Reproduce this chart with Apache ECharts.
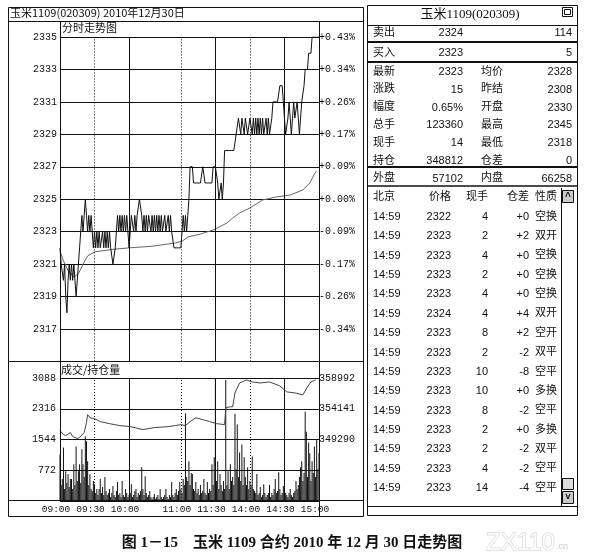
<!DOCTYPE html>
<html><head><meta charset="utf-8">
<script src="https://cdn.jsdelivr.net/npm/echarts@6/dist/echarts.min.js"></script>
<style>html,body{margin:0;padding:0;background:#fff}#c{width:591px;height:560px}</style>
</head><body><div id="c"></div>
<script>
// ---------- data ----------
const timeTickMinutes = [0,30,60,105,135,165,195,225];
const timeTickLabels = ['09:00','09:30','10:00','11:00','11:30','14:00','14:30','15:00'];
const dashedTimeTicks = [30,105,165];
const solidTimeTicks = [60,135,195];
const priceTicks = [2335,2333,2331,2329,2327,2325,2323,2321,2319,2317];
const pctLabels = ['+0.43%','+0.34%','+0.26%','+0.17%','+0.09%','+0.00%','-0.09%','-0.17%','-0.26%','-0.34%'];
const volTicks = [772,1544,2316,3088];
const oiTicks = [349290,354141,358992];

const priceValues = [
2322,2321,2321,2320,2321,2319,2318,2320,2321,2320,2321,2320,2321,2320,2319,2320,2321,2322,2323,2324,
2323,2324,2325,2324,2323,2324,2323,2324,2323,2322,2323,2322,2323,2322,2323,2322,2322,2323,2322,2323,
2322,2323,2322,2323,2322,2322,2321,2321,2322,2323,2324,2323,2324,2323,2324,2323,2324,2323,2324,2323,
2322,2323,2324,2324,2323,2324,2323,2324,2324,2325,2325,2324,2323,2324,2323,2324,2323,2324,2324,2323,
2324,2323,2324,2323,2324,2323,2324,2323,2324,2323,2323,2324,2323,2323,2324,2323,2324,2323,2323,2322,
2322,2322,2322,2322,2322,2322,2323,2324,2323,2324,2323,2324,2325,2327,2327,2327,2326,2326,2326,2326,
2326,2326,2326,2326,2327,2327,2326,2326,2326,2326,2326,2326,2326,2327,2327,2327,2327,2326,2325,2325,
2326,2325,2326,2328,2328,2328,2328,2328,2328,2328,2328,2328,2328,2329,2329,2330,2330,2329,2330,2330,
2329,2330,2330,2329,2329,2330,2330,2329,2330,2329,2330,2329,2330,2329,2330,2329,2330,2329,2329,2330,
2329,2330,2329,2329,2330,2331,2331,2331,2331,2331,2331,2332,2332,2332,2331,2330,2329,2329,2330,2331,
2330,2329,2330,2331,2330,2330,2331,2330,2329,2330,2331,2331,2332,2333,2333,2333,2334,2334,2334,2335,
2335,2335,2335,2335,2335,2335];

const avgPoints = [[0,2321.8],[3,2321.2],[7,2320.6],[12,2320.2],[16,2320.4],[20,2321.0],[24,2321.5],[30,2321.75],
[45,2321.9],[60,2322.0],[80,2322.1],[100,2322.3],[106,2322.4],[111,2322.67],[122,2322.85],[133,2323.1],[145,2323.53],
[150,2323.84],[156,2324.15],[165,2324.46],[176,2324.95],[188,2325.14],[200,2325.26],[211,2325.57],[217,2326.0],
[221,2326.55],[223,2326.75]];

const volumeValues = [
1170,400,550,1345,300,750,450,670,350,550,
550,300,920,400,1370,500,750,920,450,1300,
920,600,1620,1500,1000,400,670,300,250,500,
420,200,300,150,300,550,200,350,150,600,
250,150,200,300,100,200,375,150,100,250,
475,150,200,100,500,150,100,300,200,100,
150,200,420,100,150,250,300,100,200,150,
250,850,300,150,620,200,100,150,250,100,
50,100,175,50,100,150,50,300,100,50,
100,150,300,100,50,150,100,475,150,100,
200,300,150,250,475,300,200,550,400,2200,
600,500,1000,400,700,675,300,250,475,200,
300,150,400,200,250,550,200,150,475,200,
300,250,920,400,1100,3088,500,1000,300,675,
400,250,500,300,3040,400,750,300,920,500,
600,400,2190,800,1920,600,1220,500,1420,400,
1100,600,400,850,300,500,400,1120,300,250,
200,675,150,200,350,100,150,420,200,100,
150,200,400,100,200,150,300,550,200,250,
720,300,150,200,375,100,200,150,100,200,
300,150,100,200,250,500,300,400,600,850,
1000,500,700,2240,1740,600,1470,1200,500,1000,
700,1370,600,1540,800,1200];

const oiPoints = [[0,350700],[3,350070],[5,349920],[9,350390],[11,349760],[15,349450],[17,349600],[21,350390],
[23,351950],[24,353200],[26,352730],[30,352580],[35,352110],[43,351790],[52,351480],[61,351320],[72,350850],
[82,351170],[94,351320],[100,351480],[105,351640],[109,351480],[113,352110],[118,352730],[124,352420],
[130,352110],[136,351790],[143,351640],[144,354300],[148,354450],[150,354450],[152,356640],[156,358210],
[162,358680],[167,358370],[174,358210],[182,358370],[191,357740],[197,356800],[204,356640],[211,356330],
[215,357580],[218,358370],[222,358680]];

const chartTitle = '玉米1109(020309) 2010年12月30日';
const panelTitle = '玉米1109(020309)';
const priceLabel = '分时走势图';
const volumeLabel = '成交/持仓量';
const askRow = ['卖出','2324','114'];
const bidRow = ['买入','2323','5'];
const quoteLabels1 = ['最新','涨跌','幅度','总手','现手','持仓'];
const quoteValues1 = ['2323','15','0.65%','123360','14','348812'];
const quoteLabels2 = ['均价','昨结','开盘','最高','最低','仓差'];
const quoteValues2 = ['2328','2308','2330','2345','2318','0'];
const outerRow = ['外盘','57102','内盘','66258'];
const tradeHeader = ['北京','价格','现手','仓差','性质'];
const tradeTimes = ['14:59','14:59','14:59','14:59','14:59','14:59','14:59','14:59','14:59','14:59','14:59','14:59','14:59','14:59','14:59'];
const tradePrices = ['2322','2323','2323','2323','2323','2324','2323','2323','2323','2323','2323','2323','2323','2323','2323'];
const tradeVolumes = ['4','2','4','2','4','4','8','2','10','10','8','2','2','4','14'];
const tradeOiDiff = ['+0','+2','+0','+0','+0','+4','+2','-2','-8','+0','-2','+0','-2','-2','-4'];
const tradeTypes = ['空换','双开','空换','空换','空换','双开','空开','双平','空平','多换','空平','多换','双平','空平','空平'];
const caption = '图 1－15　玉米 1109 合约 2010 年 12 月 30 日走势图';
const watermark = 'ZX110';

// ---------- helpers ----------
const MONO = '"Liberation Mono","DejaVu Sans Mono",monospace';
const SANS = '"Liberation Sans",Arial,sans-serif';
const CJK = '"Noto Sans CJK SC",sans-serif';
const CJK_DY = -1.5;
function L(x1,y1,x2,y2,w,dash){return {type:'line',silent:true,z:50,shape:{x1,y1,x2,y2},style:{stroke:'#111',lineWidth:w||1,lineDash:dash||null}};}
function T(x,y,text,font,align,color,extra){
  return {type:'text',silent:true,z:60,x:x,y:y,style:Object.assign({text:text,font:font,fill:color||'#111',
    align:align||'left',verticalAlign:'middle',textAlign:align||'left',textVerticalAlign:'middle'},extra||{})};
}
const vMarks = dashedTimeTicks.map(v=>({xAxis:v,lineStyle:{type:[1,2],color:'#111',width:1}}))
  .concat(solidTimeTicks.map(v=>({xAxis:v,lineStyle:{type:'solid',color:'#111',width:1}})));
const markCfg = {silent:true,symbol:['none','none'],label:{show:false},animation:false,data:vMarks};

// ---------- graphic ----------
const g = [];
g.push({type:'rect',silent:true,z:50,shape:{x:8.5,y:7.5,width:355,height:509},style:{fill:null,stroke:'#111',lineWidth:1}});
g.push(L(8,21.5,363,21.5));
g.push(L(8,361.5,363,361.5));
g.push(L(8,500.5,363,500.5));
g.push(L(60.5,21,60.5,501));
g.push(L(319.5,21,319.5,516));
g.push(T(10,14.5+CJK_DY,chartTitle,'11px '+CJK));
g.push(T(62,29.5+CJK_DY,priceLabel,'11px '+CJK));
g.push(T(61,371+CJK_DY,volumeLabel,'11px '+CJK));
g.push({type:'rect',silent:true,z:50,shape:{x:367.5,y:5.5,width:210,height:510},style:{fill:null,stroke:'#111',lineWidth:1}});
g.push(T(470,15,panelTitle,'13px "Liberation Serif",'+CJK,'center'));
g.push({type:'rect',silent:true,z:50,shape:{x:562.5,y:7.5,width:10,height:9},style:{fill:'#fff',stroke:'#111',lineWidth:1}});
g.push({type:'rect',silent:true,z:51,shape:{x:564.5,y:9.5,width:6,height:5},style:{fill:'#fff',stroke:'#111',lineWidth:1}});
g.push(L(367,25.5,578,25.5));
g.push(L(367,42,578,42,2));
g.push(L(367,62,578,62,2));
g.push(L(367,167,578,167,2));
g.push(L(367,186,578,186,1.5));
const NUM = '11px '+SANS, LAB = '11px '+CJK;
function TL(x,y,text,align){return T(x,y+CJK_DY,text,LAB,align);}
g.push(TL(373,33,askRow[0])); g.push(T(463,33,askRow[1],NUM,'right')); g.push(T(572,33,askRow[2],NUM,'right'));
g.push(TL(373,53,bidRow[0])); g.push(T(463,53,bidRow[1],NUM,'right')); g.push(T(572,53,bidRow[2],NUM,'right'));
quoteLabels1.forEach((lab,i)=>{
  const y = 72 + i*17.8;
  g.push(TL(373,y,lab));
  g.push(T(463,y,quoteValues1[i],NUM,'right'));
  g.push(TL(481,y,quoteLabels2[i]));
  g.push(T(572,y,quoteValues2[i],NUM,'right'));
});
g.push(TL(373,178.5,outerRow[0])); g.push(T(463,178.5,outerRow[1],NUM,'right'));
g.push(TL(481,178.5,outerRow[2])); g.push(T(572,178.5,outerRow[3],NUM,'right'));
const colX = [373,451,488,529,557];
g.push(TL(colX[0],197,tradeHeader[0]));
for(let k=1;k<5;k++) g.push(TL(colX[k],197,tradeHeader[k],'right'));
tradeTimes.forEach((t,i)=>{
  const y = 217 + i*19.36;
  g.push(T(colX[0],y,t,NUM));
  g.push(T(colX[1],y,tradePrices[i],NUM,'right'));
  g.push(T(colX[2],y,tradeVolumes[i],NUM,'right'));
  g.push(T(colX[3],y,tradeOiDiff[i],NUM,'right'));
  g.push(TL(colX[4],y,tradeTypes[i],'right'));
});
g.push(L(561.5,188,561.5,506));
g.push(L(367,506.5,578,506.5));
g.push({type:'rect',silent:true,z:50,shape:{x:562.5,y:190.5,width:11,height:12},style:{fill:'#ccc',stroke:'#111',lineWidth:1}});
g.push(T(568,197,'^','bold 10px '+SANS,'center'));
g.push({type:'rect',silent:true,z:50,shape:{x:562.5,y:478.5,width:11,height:11},style:{fill:'#ddd',stroke:'#111',lineWidth:1}});
g.push({type:'rect',silent:true,z:50,shape:{x:562.5,y:491.5,width:11,height:12},style:{fill:'#ccc',stroke:'#111',lineWidth:1}});
g.push(T(568,497,'v','bold 9px '+SANS,'center'));
g.push(T(292,543,caption,'bold 15px "Liberation Serif",'+CJK,'center'));
g.push(T(486,543,watermark,'24px '+SANS,'left','#fff',{stroke:'#c8c8c8',lineWidth:1}));
g.push(T(556,547,'.cn','9px '+SANS,'left','#c8c8c8'));

// ---------- chart ----------
const chart = echarts.init(document.getElementById('c'),null,{renderer:'canvas'});
const hiddenAxis = {axisLine:{show:false},axisTick:{show:false}};
chart.setOption({
  animation:false,
  backgroundColor:'#fff',
  grid:[
    {left:60,top:37,width:259,height:324.4},
    {left:60,top:378,width:259,height:123}
  ],
  xAxis:[
    Object.assign({gridIndex:0,type:'value',min:0,max:225,interval:15,splitLine:{show:false},axisLabel:{show:false}},hiddenAxis),
    Object.assign({gridIndex:1,type:'value',min:0,max:225,interval:15,splitLine:{show:false},
      axisLabel:{margin:3,color:'#111',fontFamily:MONO,fontSize:9.5,padding:[0,8,0,0],
        formatter:v=>{const i=timeTickMinutes.indexOf(v);return i>=0?timeTickLabels[i]:'';}}},hiddenAxis)
  ],
  yAxis:[
    Object.assign({gridIndex:0,type:'value',min:2315,max:2335,interval:2,position:'left',
      splitLine:{show:true,lineStyle:{color:'#111',width:1}},
      axisLabel:{margin:3,color:'#111',fontFamily:MONO,fontSize:10,
        formatter:v=>priceTicks.indexOf(v)>=0?String(v):''}},hiddenAxis),
    Object.assign({gridIndex:0,type:'value',min:2315,max:2335,interval:2,position:'right',splitLine:{show:false},
      axisLabel:{margin:0,color:'#111',fontFamily:MONO,fontSize:10,
        formatter:v=>{const i=priceTicks.indexOf(v);return i>=0?pctLabels[i]:'';}}},hiddenAxis),
    Object.assign({gridIndex:1,type:'value',min:0,max:3088,interval:772,position:'left',
      splitLine:{show:true,lineStyle:{color:'#111',width:1}},
      axisLabel:{margin:4,color:'#111',fontFamily:MONO,fontSize:10,
        formatter:v=>volTicks.indexOf(v)>=0?String(v):''}},hiddenAxis),
    Object.assign({gridIndex:1,type:'value',min:339588,max:358992,interval:4851,position:'right',splitLine:{show:false},
      axisLabel:{margin:0,color:'#111',fontFamily:MONO,fontSize:10,
        formatter:v=>oiTicks.indexOf(v)>=0?String(v):''}},hiddenAxis)
  ],
  series:[
    {type:'line',xAxisIndex:0,yAxisIndex:0,data:priceValues.map((v,i)=>[i,v]),showSymbol:false,
      lineStyle:{color:'#111',width:1},markLine:markCfg,z:5},
    {type:'line',xAxisIndex:0,yAxisIndex:0,data:avgPoints,showSymbol:false,smooth:false,
      lineStyle:{color:'#666',width:1},z:4},
    {type:'bar',xAxisIndex:1,yAxisIndex:2,data:volumeValues.map((v,i)=>[i,v]),barWidth:1,
      itemStyle:{color:'#111'},z:4},
    {type:'line',xAxisIndex:1,yAxisIndex:3,data:oiPoints,showSymbol:false,
      lineStyle:{color:'#444',width:1},markLine:markCfg,z:5}
  ],
  graphic:{elements:g}
});
</script></body></html>
